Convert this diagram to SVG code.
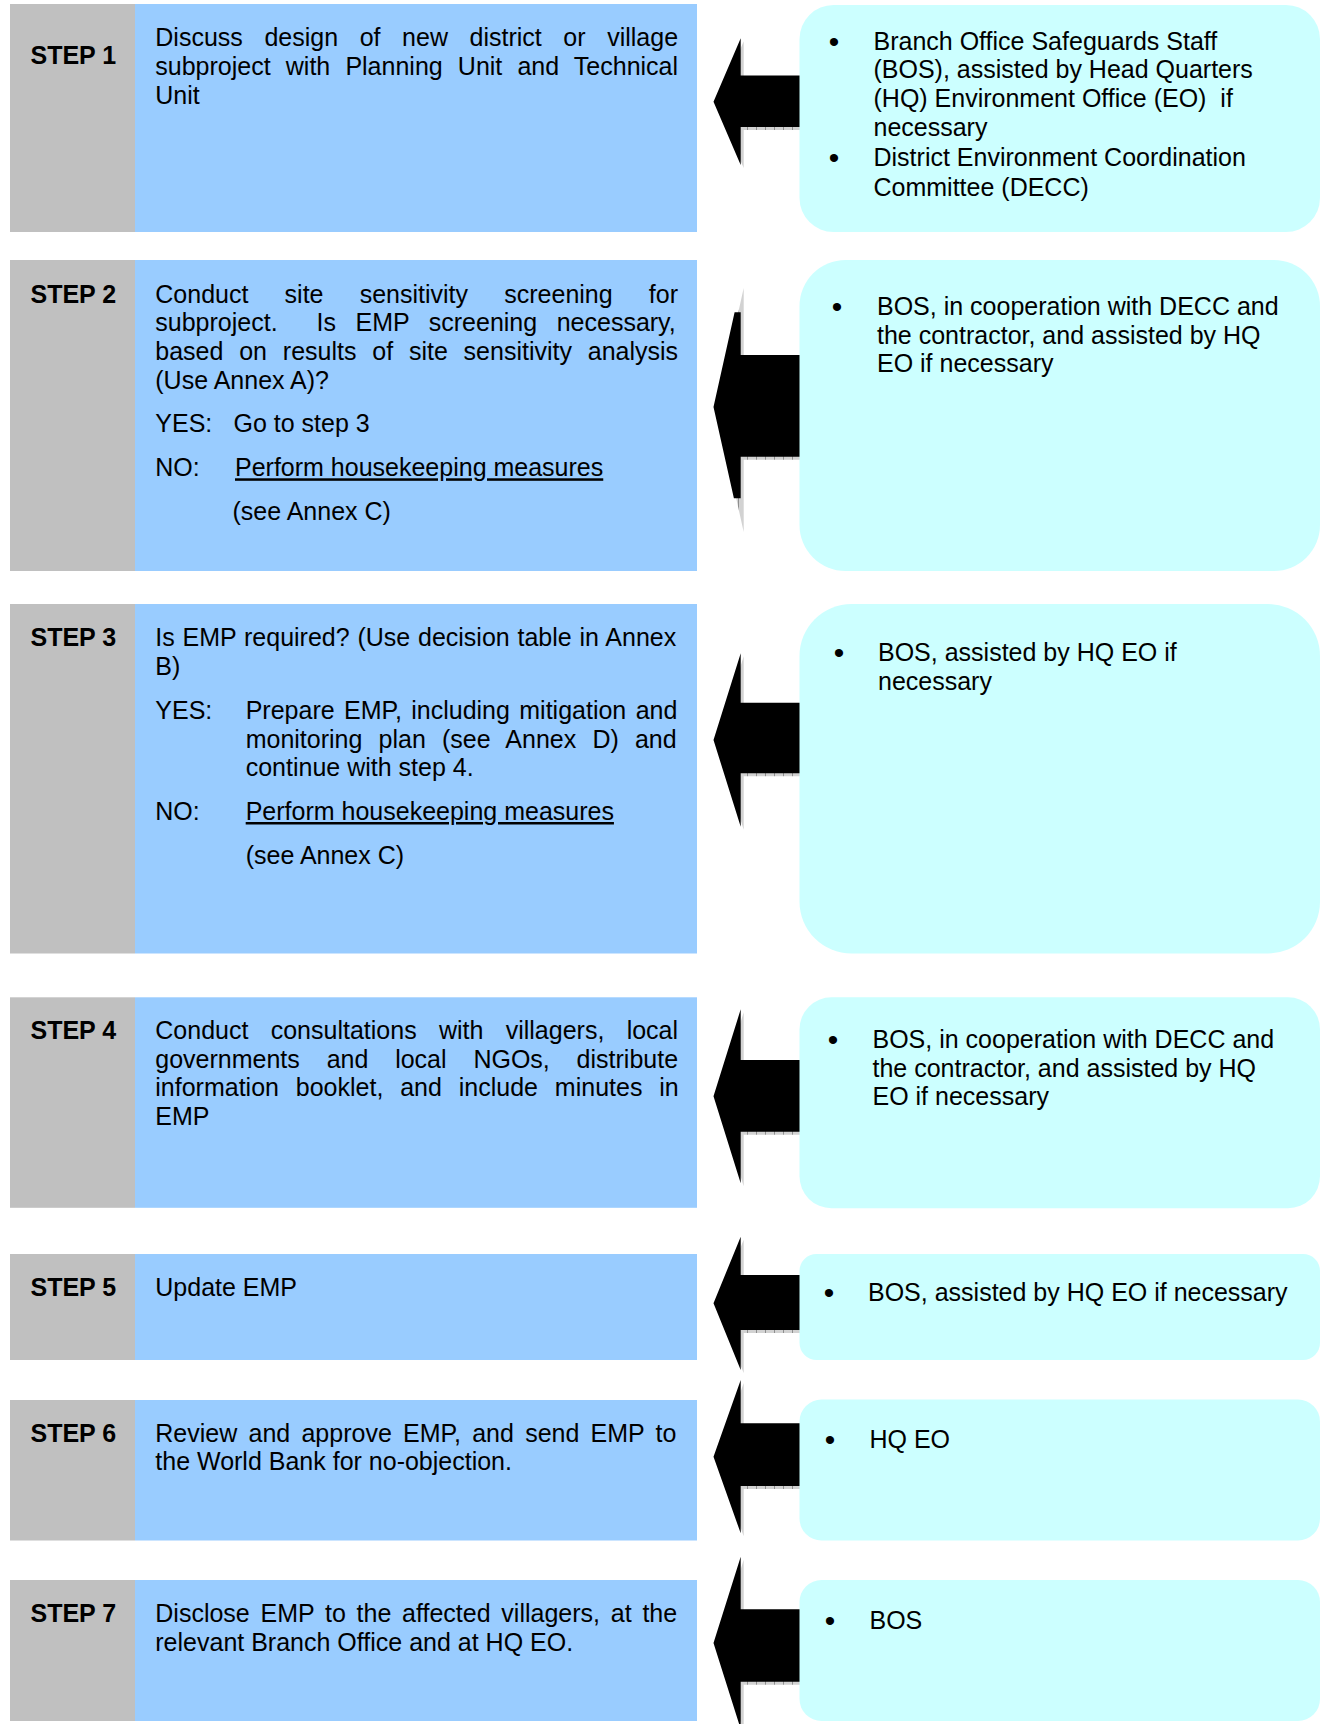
<svg xmlns="http://www.w3.org/2000/svg" width="1324" height="1724" viewBox="0 0 1324 1724">
  <style>
    .lbl { font-family: "Liberation Sans", Arial, sans-serif; font-size: 25px; font-weight: bold; fill: #000; }
    .txt { font-family: "Liberation Sans", Arial, sans-serif; font-size: 25px; fill: #000; }
    .bul { font-family: "Liberation Sans", Arial, sans-serif; font-size: 30px; fill: #000; text-anchor: middle; }
    .u { text-decoration: underline; text-decoration-skip-ink: none; }
    .tag { fill: #C0C0C0; }
    .task { fill: #99CCFF; }
    .who { fill: #CCFFFF; }
    .arrow { fill: #000; }
    .shade { fill: url(#shadeTex); }
  </style>
  <defs>
    <pattern id="shadeTex" width="9" height="3" patternUnits="userSpaceOnUse">
      <rect width="9" height="3" fill="#d2d2d2"/>
      <rect width="1" height="3" fill="#8e8e8e"/>
    </pattern>
  </defs>

  <rect width="1324" height="1724" fill="#fff"/>

  <!-- step boxes: grey label column + blue task column -->
  <g id="step1">
    <rect class="tag" x="10" y="4" width="125" height="228"/>
    <rect class="task" x="135" y="4" width="562" height="228"/>
    <text class="lbl" x="30.5" y="63.5">STEP 1</text>
    <text class="txt" x="155.3" y="46" style="word-spacing:14.64px">Discuss design of new district or village</text>
    <text class="txt" x="155.3" y="75" style="word-spacing:8.2px">subproject with Planning Unit and Technical</text>
    <text class="txt" x="155.3" y="104">Unit</text>
  </g>

  <g id="step2">
    <rect class="tag" x="10" y="260" width="125" height="311"/>
    <rect class="task" x="135" y="260" width="562" height="311"/>
    <text class="lbl" x="30.5" y="302.5">STEP 2</text>
    <text class="txt" x="155.3" y="302.5" style="word-spacing:29.25px">Conduct site sensitivity screening for</text>
    <text class="txt" x="155.3" y="331.3" xml:space="preserve" style="word-spacing:12.56px">subproject.  Is EMP screening necessary,</text>
    <text class="txt" x="155.3" y="360.4" style="word-spacing:8.85px">based on results of site sensitivity analysis</text>
    <text class="txt" x="155.3" y="388.8">(Use Annex A)?</text>
    <text class="txt" x="155.3" y="432.3">YES:</text>
    <text class="txt" x="233.5" y="432.3">Go to step 3</text>
    <text class="txt" x="155.3" y="476.3">NO:</text>
    <text class="txt u" x="235" y="476.3">Perform housekeeping measures</text>
    <text class="txt" x="232.5" y="520.3">(see Annex C)</text>
  </g>

  <g id="step3">
    <rect class="tag" x="10" y="604" width="125" height="349.5"/>
    <rect class="task" x="135" y="604" width="562" height="349.5"/>
    <text class="lbl" x="30.5" y="646">STEP 3</text>
    <text class="txt" x="155.3" y="646" style="word-spacing:0.83px">Is EMP required? (Use decision table in Annex</text>
    <text class="txt" x="155.3" y="674.5">B)</text>
    <text class="txt" x="155.3" y="719">YES:</text>
    <text class="txt" x="245.7" y="719" style="word-spacing:2.41px">Prepare EMP, including mitigation and</text>
    <text class="txt" x="245.7" y="747.5" style="word-spacing:9.2px">monitoring plan (see Annex D) and</text>
    <text class="txt" x="245.7" y="776">continue with step 4.</text>
    <text class="txt" x="155.3" y="820">NO:</text>
    <text class="txt u" x="245.7" y="820">Perform housekeeping measures</text>
    <text class="txt" x="245.7" y="864">(see Annex C)</text>
  </g>

  <g id="step4">
    <rect class="tag" x="10" y="997.3" width="125" height="210.5"/>
    <rect class="task" x="135" y="997.3" width="562" height="210.5"/>
    <text class="lbl" x="30.5" y="1039.3">STEP 4</text>
    <text class="txt" x="155.3" y="1039.3" style="word-spacing:15.36px">Conduct consultations with villagers, local</text>
    <text class="txt" x="155.3" y="1067.8" style="word-spacing:19.87px">governments and local NGOs, distribute</text>
    <text class="txt" x="155.3" y="1096.3" style="word-spacing:9.9px">information booklet, and include minutes in</text>
    <text class="txt" x="155.3" y="1124.8">EMP</text>
  </g>

  <g id="step5">
    <rect class="tag" x="10" y="1254" width="125" height="106"/>
    <rect class="task" x="135" y="1254" width="562" height="106"/>
    <text class="lbl" x="30.5" y="1296.3">STEP 5</text>
    <text class="txt" x="155.3" y="1296.3">Update EMP</text>
  </g>

  <g id="step6">
    <rect class="tag" x="10" y="1400" width="125" height="140.5"/>
    <rect class="task" x="135" y="1400" width="562" height="140.5"/>
    <text class="lbl" x="30.5" y="1441.7">STEP 6</text>
    <text class="txt" x="155.3" y="1441.7" style="word-spacing:4.3px">Review and approve EMP, and send EMP to</text>
    <text class="txt" x="155.3" y="1470.3">the World Bank for no-objection.</text>
  </g>

  <g id="step7">
    <rect class="tag" x="10" y="1580" width="125" height="141"/>
    <rect class="task" x="135" y="1580" width="562" height="141"/>
    <text class="lbl" x="30.5" y="1622">STEP 7</text>
    <text class="txt" x="155.3" y="1622" style="word-spacing:3.81px">Disclose EMP to the affected villagers, at the</text>
    <text class="txt" x="155.3" y="1650.5">relevant Branch Office and at HQ EO.</text>
  </g>

  <!-- block arrows pointing from each responsibility box to its step -->
  <g id="connectors">
    <g id="arrow1">
      <polygon class="shade" points="716.5,104.7 743.7,41.3 743.7,78.5 803,78.5 803,130 743.7,130 743.7,168"/>
      <polygon class="arrow" points="713.5,101.7 740.7,38.3 740.7,75.5 800,75.5 800,127 740.7,127 740.7,165"/>
    </g>
    <g id="arrow2">
      <polygon class="shade" points="716.5,410 743.7,288 743.7,358 803,358 803,459.7 743.7,459.7 743.7,532"/>
      <polygon class="arrow" points="713.5,407 734.6,312.3 740.7,312.3 740.7,355 800,355 800,456.7 740.7,456.7 740.7,498.3 733.9,498.3"/>
    </g>
    <g id="arrow3">
      <polygon class="shade" points="716.5,743 743.7,656.3 743.7,705.7 803,705.7 803,776.3 743.7,776.3 743.7,829.7"/>
      <polygon class="arrow" points="713.5,740 740.7,653.3 740.7,702.7 800,702.7 800,773.3 740.7,773.3 740.7,826.7"/>
    </g>
    <g id="arrow4">
      <polygon class="shade" points="716.5,1099.3 743.7,1012.3 743.7,1063 803,1063 803,1134.7 743.7,1134.7 743.7,1186.3"/>
      <polygon class="arrow" points="713.5,1096.3 740.7,1009.3 740.7,1060 800,1060 800,1131.7 740.7,1131.7 740.7,1183.3"/>
    </g>
    <g id="arrow5">
      <polygon class="shade" points="716.5,1306.3 743.7,1239.7 743.7,1278 803,1278 803,1333 743.7,1333 743.7,1373"/>
      <polygon class="arrow" points="713.5,1303.3 740.7,1236.7 740.7,1275 800,1275 800,1330 740.7,1330 740.7,1370"/>
    </g>
    <g id="arrow6">
      <polygon class="shade" points="716.5,1459.7 743.7,1383 743.7,1426.3 803,1426.3 803,1489 743.7,1489 743.7,1536.3"/>
      <polygon class="arrow" points="713.5,1456.7 740.7,1380 740.7,1423.3 800,1423.3 800,1486 740.7,1486 740.7,1533.3"/>
    </g>
    <g id="arrow7">
      <polygon class="shade" points="716.5,1646 743.7,1559.7 743.7,1612.3 803,1612.3 803,1684.7 743.7,1684.7 743.7,1732"/>
      <polygon class="arrow" points="713.5,1643 740.7,1556.7 740.7,1609.3 800,1609.3 800,1681.7 740.7,1681.7 740.7,1729"/>
    </g>
  </g>

  <!-- responsibility boxes -->
  <g id="who1">
    <rect class="who" x="799.5" y="5" width="520.5" height="227" rx="34" ry="34"/>
    <text class="bul" x="834" y="51.5">•</text>
    <text class="txt" x="873.5" y="49.5">Branch Office Safeguards Staff</text>
    <text class="txt" x="873.5" y="78.3">(BOS), assisted by Head Quarters</text>
    <text class="txt" x="873.5" y="107.1" xml:space="preserve">(HQ) Environment Office (EO)  if</text>
    <text class="txt" x="873.5" y="136">necessary</text>
    <text class="bul" x="834" y="168">•</text>
    <text class="txt" x="873.5" y="166">District Environment Coordination</text>
    <text class="txt" x="873.5" y="195.5">Committee (DECC)</text>
  </g>

  <g id="who2">
    <rect class="who" x="799.5" y="260" width="520.5" height="311" rx="46" ry="46"/>
    <text class="bul" x="837" y="317">•</text>
    <text class="txt" x="877" y="315">BOS, in cooperation with DECC and</text>
    <text class="txt" x="877" y="343.5">the contractor, and assisted by HQ</text>
    <text class="txt" x="877" y="372">EO if necessary</text>
  </g>

  <g id="who3">
    <rect class="who" x="799.5" y="604" width="520.5" height="349.5" rx="52" ry="52"/>
    <text class="bul" x="839" y="662.7">•</text>
    <text class="txt" x="878" y="660.7">BOS, assisted by HQ EO if</text>
    <text class="txt" x="878" y="689.5">necessary</text>
  </g>

  <g id="who4">
    <rect class="who" x="799.5" y="997.3" width="520.5" height="211" rx="32" ry="32"/>
    <text class="bul" x="833" y="1050.3">•</text>
    <text class="txt" x="872.5" y="1048.3">BOS, in cooperation with DECC and</text>
    <text class="txt" x="872.5" y="1076.8">the contractor, and assisted by HQ</text>
    <text class="txt" x="872.5" y="1105.3">EO if necessary</text>
  </g>

  <g id="who5">
    <rect class="who" x="799.5" y="1254" width="520.5" height="106" rx="17" ry="17"/>
    <text class="bul" x="829" y="1302.5">•</text>
    <text class="txt" x="868" y="1300.5">BOS, assisted by HQ EO if necessary</text>
  </g>

  <g id="who6">
    <rect class="who" x="799.5" y="1399.5" width="520.5" height="141" rx="22" ry="22"/>
    <text class="bul" x="830" y="1450.3">•</text>
    <text class="txt" x="869.5" y="1448.3">HQ EO</text>
  </g>

  <g id="who7">
    <rect class="who" x="799.5" y="1580" width="520.5" height="141" rx="22" ry="22"/>
    <text class="bul" x="830" y="1630.5">•</text>
    <text class="txt" x="869.5" y="1628.5">BOS</text>
  </g>
</svg>
